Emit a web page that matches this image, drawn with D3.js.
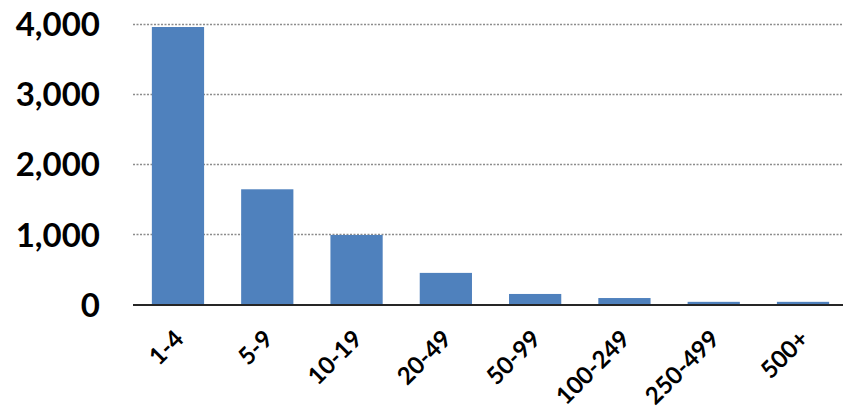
<!DOCTYPE html>
<html><head><meta charset="utf-8">
<script src="https://cdn.jsdelivr.net/npm/d3@7"></script>
<style>
html,body{margin:0;padding:0;background:#fff;}
svg{display:block;}
text{font-family:Lato, "Open Sans", sans-serif;font-weight:bold;fill:#000;}
</style></head>
<body>
<svg id="chart" width="843" height="412"></svg>
<script>
const categories = ["1-4","5-9","10-19","20-49","50-99","100-249","250-499","500+"];
const values = [3950, 1640, 990, 450, 150, 92, 38, 38];
const yTicks = [0, 1000, 2000, 3000, 4000];

const W = 843, H = 412;
const mLeft = 134, mRight = 847, mTop = 23.5, mBottom = 304.5;
const svg = d3.select("#chart");

const x = d3.scaleBand().domain(categories).range([mLeft, mRight]).paddingInner(0.415).paddingOuter(0.2);
const y = d3.scaleLinear().domain([0, 4000]).range([mBottom, mTop]);

// gridlines
svg.append("g").selectAll("line").data(yTicks.filter(d => d > 0)).join("line")
  .attr("x1", 133).attr("x2", W)
  .attr("y1", d => Math.round(y(d)) + 0.5).attr("y2", d => Math.round(y(d)) + 0.5)
  .attr("stroke", "#8c8c8c").attr("stroke-width", 1.3).attr("stroke-dasharray", "2,1.5");

// bars
svg.append("g").selectAll("rect").data(values).join("rect")
  .attr("x", (d, i) => x(categories[i]))
  .attr("width", x.bandwidth())
  .attr("y", d => y(d))
  .attr("height", d => y(0) - y(d))
  .attr("fill", "#4f81bd");

// baseline
svg.append("line").attr("x1", 133).attr("x2", W).attr("y1", y(0) + 0.5).attr("y2", y(0) + 0.5)
  .attr("stroke", "#262626").attr("stroke-width", 1.8);

// y axis labels
const yAxis = d3.axisLeft(y).tickValues(yTicks).tickFormat(d3.format(",")).tickSize(0).tickPadding(0);
const ga = svg.append("g").attr("transform", "translate(100,0)").call(yAxis);
ga.select(".domain").remove();
ga.selectAll("text").attr("font-size", 33).attr("font-family", "Lato, sans-serif").attr("font-weight", 900).attr("fill", "#000").attr("dy", "0.36em");

// x axis labels
const xAxis = d3.axisBottom(x).tickSize(0).tickPadding(0);
const gx = svg.append("g").attr("transform", "translate(0," + mBottom + ")").call(xAxis);
gx.select(".domain").remove();
gx.selectAll("text")
  .attr("font-size", 24).attr("font-family", "Lato, sans-serif").attr("font-weight", 900).attr("fill", "#000")
  .attr("text-anchor", "end").attr("dy", null).attr("y", 0)
  .attr("transform", "translate(7,36) rotate(-45)");
</script>
</body></html>
